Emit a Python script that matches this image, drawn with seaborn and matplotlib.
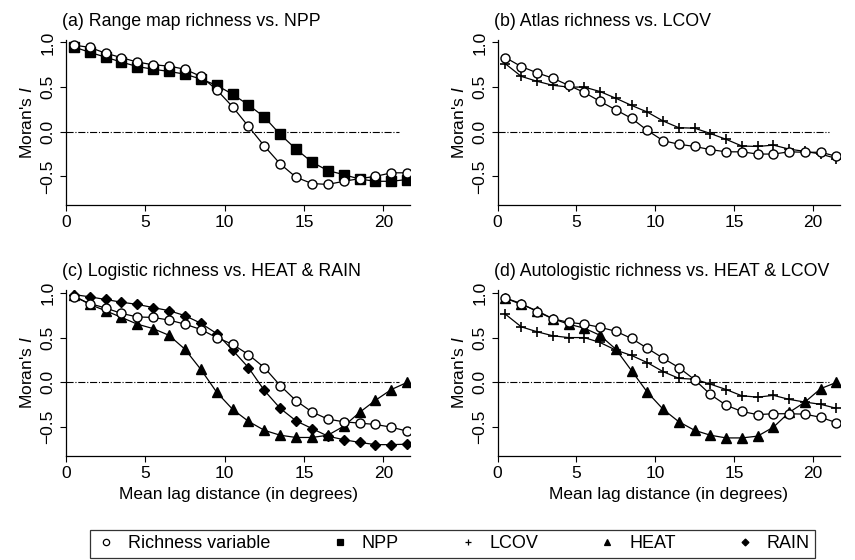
import numpy as np
import pandas as pd
import matplotlib
matplotlib.use('Agg')
import matplotlib.pyplot as plt
from matplotlib.lines import Line2D
import seaborn as sns

# lag distance classes (degrees)
lag = [0.5, 1.5, 2.5, 3.5, 4.5, 5.5, 6.5, 7.5, 8.5, 9.5, 10.5,
       11.5, 12.5, 13.5, 14.5, 15.5, 16.5, 17.5, 18.5, 19.5, 20.5, 21.5]

# (a) range map richness vs NPP
a_rich = [0.97, 0.945, 0.88, 0.83, 0.78, 0.75, 0.735, 0.70, 0.62, 0.47, 0.28,
          0.06, -0.16, -0.36, -0.51, -0.58, -0.59, -0.555, -0.525, -0.50, -0.46, -0.46]
a_npp = [0.95, 0.89, 0.835, 0.78, 0.73, 0.70, 0.675, 0.645, 0.59, 0.52, 0.42,
         0.30, 0.165, -0.03, -0.195, -0.34, -0.435, -0.48, -0.53, -0.555, -0.555, -0.535]

# (b) atlas richness vs LCOV
b_rich = [0.83, 0.73, 0.66, 0.60, 0.52, 0.44, 0.34, 0.245, 0.15, 0.015, -0.10,
          -0.14, -0.165, -0.20, -0.225, -0.225, -0.25, -0.25, -0.225, -0.23, -0.23, -0.275]
b_lcov = [0.76, 0.62, 0.565, 0.52, 0.50, 0.50, 0.45, 0.375, 0.295, 0.22, 0.12,
          0.045, 0.04, -0.02, -0.085, -0.16, -0.165, -0.15, -0.195, -0.22, -0.25, -0.30]

# (c) logistic richness vs HEAT & RAIN
c_rich = [0.955, 0.88, 0.83, 0.77, 0.73, 0.725, 0.695, 0.65, 0.59, 0.50, 0.425,
          0.31, 0.165, -0.035, -0.205, -0.33, -0.41, -0.44, -0.455, -0.47, -0.50, -0.545]
c_heat = [0.97, 0.87, 0.80, 0.725, 0.65, 0.60, 0.525, 0.37, 0.145, -0.11, -0.30,
          -0.435, -0.535, -0.59, -0.615, -0.615, -0.59, -0.49, -0.335, -0.20, -0.08, 0.0]
c_rain = [0.98, 0.955, 0.925, 0.895, 0.87, 0.835, 0.80, 0.745, 0.66, 0.545, 0.36,
          0.165, -0.09, -0.29, -0.43, -0.515, -0.60, -0.64, -0.67, -0.695, -0.695, -0.69]

# (d) autologistic richness vs HEAT & LCOV
d_rich = [0.94, 0.88, 0.79, 0.71, 0.67, 0.65, 0.615, 0.57, 0.49, 0.38, 0.27,
          0.165, 0.03, -0.135, -0.255, -0.325, -0.36, -0.35, -0.35, -0.355, -0.39, -0.45]
d_heat = [0.94, 0.87, 0.80, 0.71, 0.65, 0.605, 0.525, 0.37, 0.13, -0.11, -0.30,
          -0.44, -0.535, -0.59, -0.62, -0.62, -0.60, -0.50, -0.335, -0.22, -0.07, 0.0]
d_lcov = [0.76, 0.62, 0.565, 0.52, 0.50, 0.50, 0.445, 0.36, 0.30, 0.22, 0.12,
          0.045, 0.035, -0.02, -0.08, -0.15, -0.165, -0.145, -0.19, -0.22, -0.245, -0.29]

titles = ['(a) Range map richness vs. NPP',
          '(b) Atlas richness vs. LCOV',
          '(c) Logistic richness vs. HEAT & RAIN',
          '(d) Autologistic richness vs. HEAT & LCOV']

legend_labels = ['Richness variable', 'NPP', 'LCOV', 'HEAT', 'RAIN']

# marker style per variable: (marker, size, face colour)
styles = {
    'Richness variable': ('o', 6.5, 'white'),
    'NPP': ('s', 6.5, 'black'),
    'LCOV': ('+', 7, 'black'),
    'HEAT': ('^', 6.5, 'black'),
    'RAIN': ('D', 5, 'black'),
}

panels = [
    [('NPP', a_npp), ('Richness variable', a_rich)],
    [('LCOV', b_lcov), ('Richness variable', b_rich)],
    [('HEAT', c_heat), ('RAIN', c_rain), ('Richness variable', c_rich)],
    [('LCOV', d_lcov), ('HEAT', d_heat), ('Richness variable', d_rich)],
]

sns.set_style('ticks')
plt.rcParams['font.family'] = ['Liberation Sans', 'DejaVu Sans']
plt.rcParams['mathtext.fontset'] = 'custom'
plt.rcParams['mathtext.it'] = 'Liberation Sans:italic'
plt.rcParams['mathtext.rm'] = 'Liberation Sans'
for key in ['text.color', 'axes.labelcolor', 'xtick.color', 'ytick.color', 'axes.edgecolor']:
    plt.rcParams[key] = 'black'

fig = plt.figure(figsize=(8.55, 5.6), dpi=100)
boxes = [
    [0.077, 0.634, 0.403, 0.295],
    [0.582, 0.634, 0.400, 0.295],
    [0.077, 0.186, 0.403, 0.296],
    [0.582, 0.186, 0.400, 0.296],
]

for i, (box, series) in enumerate(zip(boxes, panels)):
    ax = fig.add_axes(box)
    ax.hlines(0, 0, 21, colors='black', linestyles='-.', linewidth=0.8)
    for name, vals in series:
        mk, ms, fc = styles[name]
        df = pd.DataFrame({'lag': lag, 'I': vals})
        sns.lineplot(data=df, x='lag', y='I', ax=ax, color='black', linewidth=0.9,
                     marker=mk, markersize=ms, markerfacecolor=fc,
                     mec='black', mew=1.0 if mk != '+' else 1.2)
    ax.set_xlim(0, 21.7)
    ax.set_ylim(-0.82, 1.03)
    ax.set_xticks([0, 5, 10, 15, 20])
    ax.set_yticks([-0.5, 0.0, 0.5, 1.0])
    ax.set_yticklabels(['\u22120.5', '0.0', '0.5', '1.0'], rotation=90, va='center')
    ax.tick_params(labelsize=12.5, length=4, width=0.8)
    ax.set_ylabel("Moran's $\\it{I}$", fontsize=12.5, labelpad=4)
    if i >= 2:
        ax.set_xlabel('Mean lag distance (in degrees)', fontsize=12.5, labelpad=4)
    else:
        ax.set_xlabel('')
    for s in ['left', 'bottom']:
        ax.spines[s].set_linewidth(0.9)
    sns.despine(ax=ax)
    ax.set_title(titles[i], loc='left', x=-0.01, fontsize=12.8, pad=10)

handles = []
for name in legend_labels:
    mk, ms, fc = styles[name]
    handles.append(Line2D([], [], linestyle='none', marker=mk, markersize=ms * 0.7,
                          markerfacecolor=fc, markeredgecolor='black',
                          markeredgewidth=0.9))
leg = fig.legend(handles, legend_labels, loc='lower left', ncol=5, mode='expand',
                 bbox_to_anchor=(90 / 855, 0.004, 725 / 855, 0.05),
                 frameon=True, fancybox=False, edgecolor='black', fontsize=13,
                 handlelength=1.2, handletextpad=0.6, borderpad=0.3,
                 borderaxespad=0.0)
leg.get_frame().set_linewidth(0.9)

fig.savefig('out.png', dpi=100)
